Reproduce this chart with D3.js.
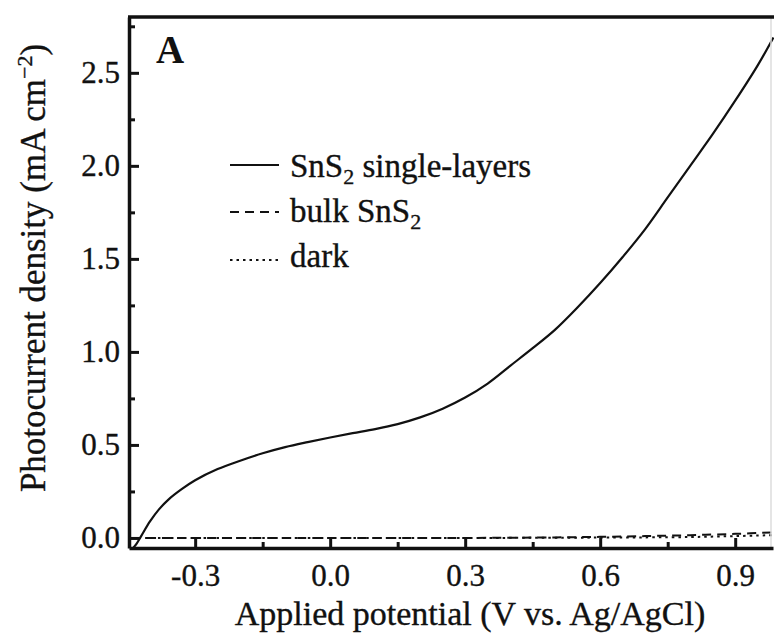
<!DOCTYPE html>
<html><head><meta charset="utf-8">
<script src="https://cdn.jsdelivr.net/npm/d3@7"></script>
<style>body{margin:0;background:#fff}svg{display:block}</style>
</head><body><svg id="c" width="774" height="637"></svg>
<script>
// Data
const potential = [-0.44,-0.43,-0.42,-0.40,-0.38,-0.36,-0.33,-0.30,-0.25,-0.20,-0.15,-0.10,-0.05,0.0,0.05,0.10,0.15,0.20,0.25,0.30,0.35,0.40,0.45,0.50,0.55,0.60,0.65,0.70,0.75,0.80,0.85,0.90,0.95,0.985];
const singleLayer = [-0.06,-0.03,0.01,0.09,0.155,0.205,0.262,0.31,0.37,0.415,0.455,0.488,0.515,0.54,0.563,0.585,0.612,0.648,0.695,0.755,0.83,0.925,1.02,1.12,1.24,1.37,1.51,1.66,1.83,2.00,2.17,2.35,2.54,2.69];
const bulkPotential = [-0.44,0.0,0.3,0.5,0.6,0.7,0.8,0.9,0.985];
const bulk = [0.0,0.0,0.0,0.003,0.006,0.01,0.015,0.022,0.03];
const darkPotential = [-0.44,0.0,0.3,0.6,0.8,0.9,0.985];
const dark = [0.0,0.0,0.0,0.002,0.005,0.01,0.015];
const xTicks = [-0.3,0.0,0.3,0.6,0.9];
const xMinor = [-0.15,0.15,0.45,0.75];
const yTicks = [0.0,0.5,1.0,1.5,2.0,2.5];
const yMinor = [0.25,0.75,1.25,1.75,2.25,2.75];
const legendLabels = [["SnS","2"," single-layers"],["bulk SnS","2",""],["dark","",""]];
const dashes = [null,"9,6","2.5,4"];

const FONT = '"Liberation Serif", Tinos, "Times New Roman", "DejaVu Serif", serif';
const svg = d3.select("#c");
const x = d3.scaleLinear().domain([-0.447,0.984]).range([129,773]);
const y = d3.scaleLinear().domain([-0.054,2.80]).range([548,17]);

function styleText(sel,size){
  return sel.style("font-family",FONT).style("font-size",size+"px").attr("fill","#111")
    .attr("stroke","#111").attr("stroke-width",0.35);
}

// lines
const line = d3.line().x(d=>x(d[0])).y(d=>y(d[1])).curve(d3.curveCatmullRom.alpha(0.5));
svg.append("clipPath").attr("id","cp").append("rect").attr("x",129).attr("y",17).attr("width",645).attr("height",531);
const g = svg.append("g").attr("clip-path","url(#cp)");
g.append("path").datum(potential.map((p,i)=>[p,singleLayer[i]])).attr("d",line).attr("fill","none").attr("stroke","#111").attr("stroke-width",2.2);
g.append("path").datum(bulkPotential.map((p,i)=>[p,bulk[i]])).attr("d",line).attr("fill","none").attr("stroke","#111").attr("stroke-width",2).attr("stroke-dasharray",dashes[1]);
g.append("path").datum(darkPotential.map((p,i)=>[p,dark[i]])).attr("d",line).attr("fill","none").attr("stroke","#111").attr("stroke-width",2).attr("stroke-dasharray",dashes[2]);

// frame
svg.append("line").attr("x1",771).attr("x2",771).attr("y1",17).attr("y2",548).attr("stroke","#ddd").attr("stroke-width",1.5);
svg.append("line").attr("x1",128).attr("x2",774).attr("y1",17).attr("y2",17).attr("stroke","#111").attr("stroke-width",3.5);

// axes
const xAxis = d3.axisBottom(x).tickValues(xTicks).tickSizeInner(-10).tickSizeOuter(0).tickFormat(d3.format(".1f"));
const gx = svg.append("g").attr("transform","translate(0,548)").call(xAxis).attr("font-family",null);
gx.select(".domain").attr("stroke","#111").attr("stroke-width",3.5);
gx.selectAll(".tick line").attr("stroke","#111").attr("stroke-width",3);
styleText(gx.selectAll(".tick text").attr("y",16).attr("dy","0.71em"),31)
  .text(d=>d3.format(".1f")(d).replace("\u2212","-"));
const gxm = svg.append("g").attr("transform","translate(0,548)").call(d3.axisBottom(x).tickValues(xMinor).tickSizeInner(-6).tickSizeOuter(0).tickFormat(""));
gxm.select(".domain").remove();
gxm.selectAll(".tick line").attr("stroke","#111").attr("stroke-width",3);

const yAxis = d3.axisLeft(y).tickValues(yTicks).tickSizeInner(-10).tickSizeOuter(0).tickFormat(d3.format(".1f"));
const gy = svg.append("g").attr("transform","translate(129,0)").call(yAxis).attr("font-family",null);
gy.select(".domain").attr("stroke","#111").attr("stroke-width",3.5);
gy.selectAll(".tick line").attr("stroke","#111").attr("stroke-width",3);
styleText(gy.selectAll(".tick text").attr("x",-9),31);
const gym = svg.append("g").attr("transform","translate(129,0)").call(d3.axisLeft(y).tickValues(yMinor).tickSizeInner(-6).tickSizeOuter(0).tickFormat(""));
gym.select(".domain").remove();
gym.selectAll(".tick line").attr("stroke","#111").attr("stroke-width",3);

// titles
styleText(svg.append("text").attr("x",470).attr("y",625).attr("text-anchor","middle"),34).text("Applied potential (V vs. Ag/AgCl)");
const yt = styleText(svg.append("text").attr("transform","translate(45,268) rotate(-90)").attr("text-anchor","middle"),35);
yt.append("tspan").text("Photocurrent density (mA cm");
yt.append("tspan").attr("dy",-13).style("font-size","22px").text("\u22122");
yt.append("tspan").attr("dy",13).text(")");

// panel label
svg.append("text").attr("x",156).attr("y",63).style("font-family",FONT).style("font-size","39px").style("font-weight","bold").attr("fill","#111").text("A");

// legend
const ly = [165,212,260];
legendLabels.forEach((lab,i)=>{
  svg.append("line").attr("x1",230).attr("x2",279).attr("y1",ly[i]).attr("y2",ly[i]).attr("stroke","#111").attr("stroke-width",2).attr("stroke-dasharray",dashes[i]);
  const t = styleText(svg.append("text").attr("x",290).attr("y",177+45*i),33);
  t.append("tspan").text(lab[0]);
  if(lab[1]){ t.append("tspan").attr("dy",7).style("font-size","22px").text(lab[1]); t.append("tspan").attr("dy",-7).text(lab[2]); }
});
</script></body></html>
